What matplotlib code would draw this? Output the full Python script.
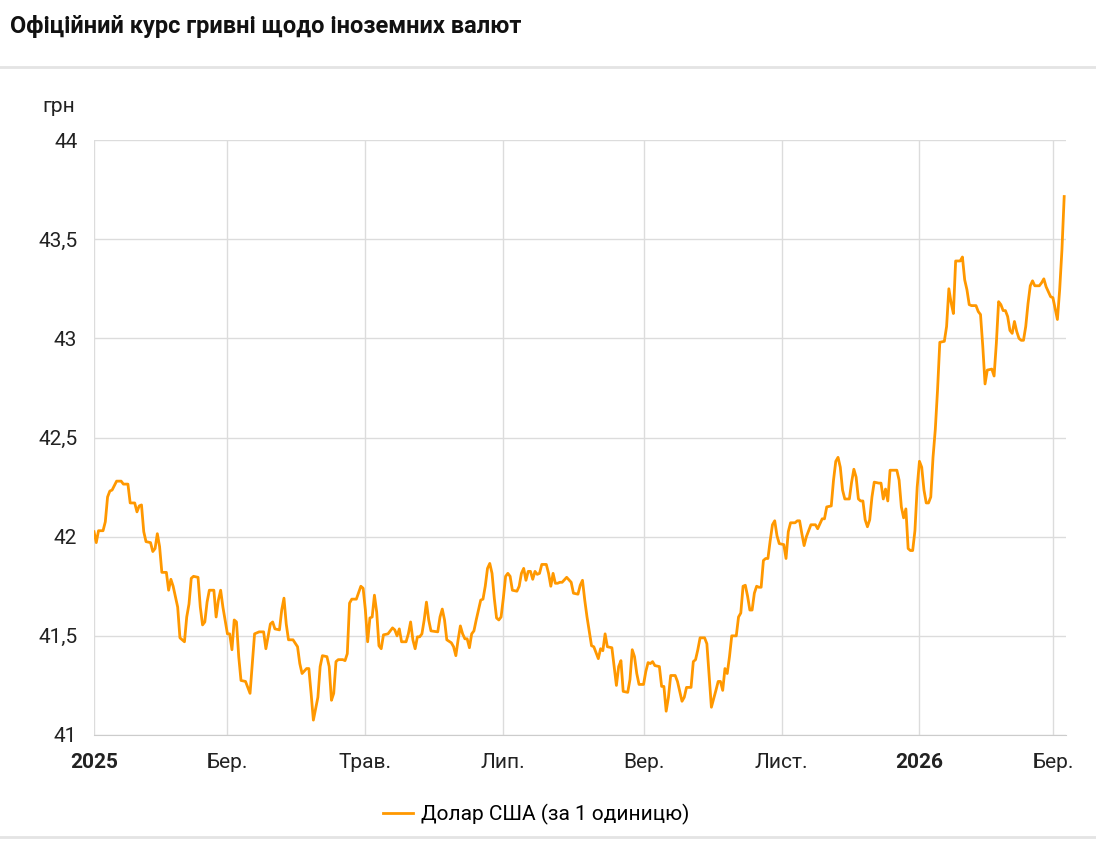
import matplotlib
matplotlib.use('Agg')
import matplotlib.pyplot as plt
from matplotlib.lines import Line2D
import pandas as pd

plt.rcParams['font.family'] = ['Roboto', 'DejaVu Sans']

# days since 2025-01-01 and the official UAH/USD rate
days = [0, 1, 2, 4, 5, 6, 7, 8, 10, 12, 13, 15, 16, 18, 19, 20, 21, 22, 23, 25,
        26, 27, 28, 29, 30, 32, 33, 34, 35, 37, 38, 39, 40, 41, 42, 43, 44, 46, 47, 48,
        49, 50, 51, 53, 54, 55, 56, 57, 59, 60, 61, 62, 63, 64, 65, 67, 69, 70, 71, 73,
        75, 76, 78, 79, 80, 82, 83, 84, 85, 86, 88, 90, 91, 92, 94, 95, 96, 97, 99, 100,
        101, 103, 104, 105, 106, 107, 108, 110, 111, 112, 113, 114, 116, 118, 119, 120, 121, 122, 123, 124,
        125, 126, 127, 128, 130, 132, 133, 134, 135, 136, 138, 139, 140, 141, 142, 143, 144, 145, 146, 147,
        148, 149, 152, 153, 154, 155, 156, 158, 159, 160, 161, 162, 163, 164, 165, 166, 167, 168, 169, 170,
        171, 172, 173, 174, 175, 176, 177, 178, 179, 180, 181, 182, 183, 184, 185, 187, 188, 189, 190, 191,
        192, 193, 194, 195, 196, 197, 198, 200, 201, 202, 203, 204, 205, 206, 207, 209, 211, 212, 214, 215,
        216, 217, 218, 220, 221, 223, 224, 225, 226, 227, 229, 230, 231, 232, 233, 234, 236, 237, 238, 239,
        240, 241, 243, 244, 245, 246, 247, 248, 250, 251, 252, 253, 254, 255, 257, 258, 260, 261, 262, 264,
        265, 266, 267, 268, 270, 271, 272, 273, 275, 276, 277, 278, 279, 280, 281, 282, 284, 285, 286, 287,
        288, 289, 290, 291, 292, 293, 294, 295, 296, 297, 298, 299, 300, 301, 302, 303, 305, 306, 307, 308,
        310, 311, 312, 313, 314, 315, 317, 319, 320, 322, 323, 324, 326, 327, 328, 329, 330, 331, 332, 334,
        335, 336, 337, 338, 339, 340, 341, 342, 343, 344, 345, 347, 348, 349, 350, 351, 352, 355, 356, 357,
        358, 359, 360, 361, 362, 363, 364, 365, 366, 367, 368, 369, 370, 371, 372, 373, 374, 376, 377, 378,
        379, 380, 381, 382, 383, 384, 385, 386, 387, 388, 390, 391, 392, 393, 394, 395, 397, 398, 399, 400,
        401, 402, 403, 404, 405, 406, 407, 408, 409, 410, 411, 412, 413, 414, 415, 416, 418, 419, 420, 421,
        422, 423, 424, 425, 426, 427, 428, 429]
usd = [42.025, 41.97, 42.03, 42.03, 42.075, 42.20, 42.23, 42.235, 42.28, 42.28,
       42.265, 42.265, 42.17, 42.17, 42.125, 42.155, 42.16, 42.025, 41.975, 41.97,
       41.925, 41.94, 42.015, 41.95, 41.82, 41.82, 41.73, 41.785, 41.75, 41.645,
       41.49, 41.48, 41.47, 41.595, 41.66, 41.79, 41.80, 41.795, 41.645, 41.555,
       41.57, 41.67, 41.73, 41.73, 41.595, 41.68, 41.73, 41.645, 41.51, 41.51,
       41.43, 41.58, 41.57, 41.395, 41.275, 41.27, 41.21, 41.36, 41.51, 41.52,
       41.52, 41.435, 41.56, 41.57, 41.535, 41.53, 41.63, 41.69, 41.56, 41.48,
       41.48, 41.445, 41.36, 41.31, 41.335, 41.335, 41.21, 41.075, 41.19, 41.345,
       41.40, 41.395, 41.345, 41.175, 41.21, 41.37, 41.38, 41.38, 41.375, 41.41,
       41.665, 41.685, 41.685, 41.75, 41.74, 41.63, 41.47, 41.59, 41.595, 41.705,
       41.62, 41.45, 41.435, 41.505, 41.51, 41.54, 41.53, 41.50, 41.535, 41.47,
       41.47, 41.51, 41.57, 41.48, 41.435, 41.495, 41.495, 41.51, 41.58, 41.67,
       41.58, 41.525, 41.52, 41.595, 41.635, 41.58, 41.48, 41.465, 41.445, 41.40,
       41.48, 41.55, 41.51, 41.485, 41.485, 41.44, 41.51, 41.525, 41.58, 41.63,
       41.68, 41.685, 41.75, 41.84, 41.865, 41.815, 41.69, 41.59, 41.58, 41.595,
       41.69, 41.80, 41.815, 41.80, 41.73, 41.725, 41.75, 41.815, 41.84, 41.78,
       41.825, 41.825, 41.785, 41.825, 41.81, 41.815, 41.86, 41.86, 41.815, 41.75,
       41.815, 41.765, 41.765, 41.77, 41.77, 41.795, 41.77, 41.715, 41.71, 41.755,
       41.78, 41.68, 41.595, 41.45, 41.445, 41.385, 41.435, 41.425, 41.51, 41.445,
       41.44, 41.345, 41.25, 41.345, 41.375, 41.22, 41.215, 41.28, 41.43, 41.395,
       41.31, 41.255, 41.255, 41.32, 41.365, 41.36, 41.37, 41.35, 41.345, 41.245,
       41.245, 41.12, 41.19, 41.30, 41.30, 41.27, 41.17, 41.19, 41.24, 41.24,
       41.37, 41.38, 41.43, 41.49, 41.49, 41.46, 41.30, 41.14, 41.225, 41.27,
       41.27, 41.225, 41.335, 41.31, 41.395, 41.50, 41.50, 41.595, 41.615, 41.75,
       41.755, 41.70, 41.63, 41.63, 41.715, 41.75, 41.745, 41.745, 41.88, 41.89,
       41.89, 41.98, 42.06, 42.08, 42.005, 41.965, 41.96, 41.89, 42.025, 42.07,
       42.07, 42.08, 42.08, 42.015, 41.955, 42.00, 42.06, 42.06, 42.04, 42.09,
       42.09, 42.15, 42.155, 42.285, 42.38, 42.40, 42.35, 42.235, 42.19, 42.19,
       42.275, 42.34, 42.30, 42.19, 42.18, 42.18, 42.085, 42.05, 42.085, 42.20,
       42.275, 42.27, 42.27, 42.19, 42.24, 42.18, 42.335, 42.335, 42.285, 42.15,
       42.095, 42.14, 41.94, 41.93, 41.93, 42.03, 42.25, 42.38, 42.35, 42.235,
       42.17, 42.17, 42.20, 42.40, 42.54, 42.74, 42.98, 42.985, 43.06, 43.25,
       43.18, 43.125, 43.39, 43.39, 43.39, 43.41, 43.295, 43.245, 43.17, 43.165,
       43.165, 43.135, 43.12, 42.96, 42.77, 42.84, 42.845, 42.81, 42.975, 43.185,
       43.17, 43.14, 43.14, 43.11, 43.04, 43.025, 43.085, 43.035, 43.0, 42.99,
       42.99, 43.06, 43.175, 43.265, 43.29, 43.265, 43.265, 43.28, 43.30, 43.26,
       43.235, 43.21, 43.205, 43.15, 43.095, 43.245, 43.445, 43.715]

tick_dates = ['2025-01-01', '2025-03-01', '2025-05-01', '2025-07-01',
              '2025-09-01', '2025-11-01', '2026-01-01', '2026-03-01']
tick_labels = ['2025', 'Бер.', 'Трав.', 'Лип.', 'Вер.', 'Лист.', '2026', 'Бер.']
y_ticks = [41, 41.5, 42, 42.5, 43, 43.5, 44]

W, H = 1096, 841
start = pd.Timestamp('2025-01-01')
dates = start + pd.to_timedelta(days, unit='D')

fig = plt.figure(figsize=(W / 100, H / 100), dpi=100)
ax = fig.add_axes([94 / W, 1 - 735 / H, (1066 - 94) / W, (735 - 140) / H])

ax.plot(dates, usd, color='#ff9800', lw=2, solid_joinstyle='round')

ax.set_ylim(41, 44)
ax.set_xlim(start, start + pd.Timedelta(days=429.8))

ax.set_yticks(y_ticks)
ax.set_yticklabels([f'{v:g}'.replace('.', ',') for v in y_ticks])
ax.set_xticks(pd.to_datetime(tick_dates))
ax.set_xticklabels(tick_labels)
for lab in ax.get_xticklabels():
    if lab.get_text() in ('2025', '2026'):
        lab.set_fontweight('bold')

ax.tick_params(axis='both', length=0, labelsize=15, colors='#222222')
ax.tick_params(axis='x', pad=13)
ax.tick_params(axis='y', pad=12)

ax.grid(True, color='#dcdcdc', lw=1)
ax.set_axisbelow(True)
for s in ['top', 'right', 'left']:
    ax.spines[s].set_visible(False)
ax.spines['bottom'].set_color('#cccccc')

fig.text(42 / W, 1 - 106 / H, 'грн', fontsize=15, color='#222222', va='center')

fig.text(10 / W, 1 - 27 / H, 'Офіційний курс гривні щодо іноземних валют',
         fontsize=17, fontweight='bold', color='#111111', va='center')
fig.add_artist(Line2D([0, 1], [1 - 67 / H] * 2, color='#e4e4e4', lw=2))
fig.add_artist(Line2D([0, 1], [1 - 837 / H] * 2, color='#e4e4e4', lw=2))

handle = Line2D([], [], color='#ff9800', lw=2)
fig.legend([handle], ['Долар США (за 1 одиницю)'], loc='center',
           bbox_to_anchor=(536 / W, 1 - 814 / H), frameon=False, fontsize=15,
           handlelength=1.45, handletextpad=0.38)

fig.savefig('out.png', dpi=100)
